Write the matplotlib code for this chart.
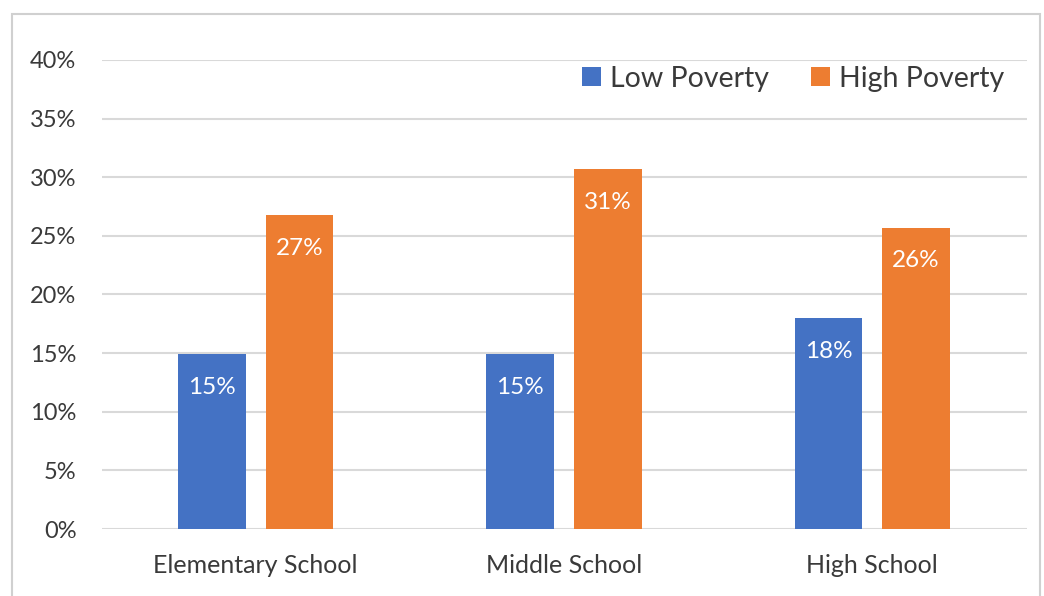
import matplotlib.pyplot as plt
from matplotlib.patches import Rectangle
import numpy as np

plt.rcParams['font.family'] = ['Lato', 'DejaVu Sans']

categories = ["Elementary School", "Middle School", "High School"]
low_poverty = [14.9, 14.9, 18.0]
high_poverty = [26.8, 30.7, 25.7]
series_names = ["Low Poverty", "High Poverty"]
yticks = [0, 5, 10, 15, 20, 25, 30, 35, 40]

BLUE = "#4472C4"
ORANGE = "#ED7D31"
TEXT = "#3A3A3A"

fig = plt.figure(figsize=(10.44, 5.96), dpi=100)
ax = fig.add_axes([101.5 / 1044, 0.1124, 925 / 1044, 0.787])

# light frame round the chart area
fig.patches.append(Rectangle((12 / 1044, -0.01), (1040 - 12) / 1044, 1 - 14 / 596 + 0.01,
                             transform=fig.transFigure, fill=False,
                             edgecolor="#D0D0D0", linewidth=1.5))

x = np.arange(len(categories))
width = 0.22
offset = 0.142
b1 = ax.bar(x - offset, low_poverty, width, color=BLUE, label=series_names[0], zorder=3)
b2 = ax.bar(x + offset, high_poverty, width, color=ORANGE, label=series_names[1], zorder=3)

for bars in (b1, b2):
    for rect in bars:
        v = rect.get_height()
        ax.annotate(f"{v:.0f}%", (rect.get_x() + rect.get_width() / 2, v),
                    xytext=(0, -24), textcoords="offset points",
                    ha="center", va="center", color="white", fontsize=17.5, zorder=4)

ax.set_xlim(-0.5, 2.5)
ax.set_ylim(0, 40)
ax.set_yticks(yticks)
ax.set_yticklabels([f"{t}%" for t in yticks], fontsize=17, color=TEXT)
ax.set_xticks(x)
ax.set_xticklabels(categories, fontsize=18, color=TEXT)
ax.tick_params(length=0)
ax.tick_params(axis="y", pad=18)
ax.tick_params(axis="x", pad=18)
ax.yaxis.grid(True, color="#D9D9D9", linewidth=1.5, zorder=0)
for s in ax.spines.values():
    s.set_visible(False)

leg = ax.legend(loc="center right", bbox_to_anchor=(0.976, 1 - 19 / 469), ncol=2,
                frameon=False, fontsize=20.5, handlelength=0.65, handleheight=0.65,
                handletextpad=0.32, columnspacing=1.5, labelcolor=TEXT,
                borderaxespad=0, borderpad=0)

fig.savefig("out.png", dpi=100)
